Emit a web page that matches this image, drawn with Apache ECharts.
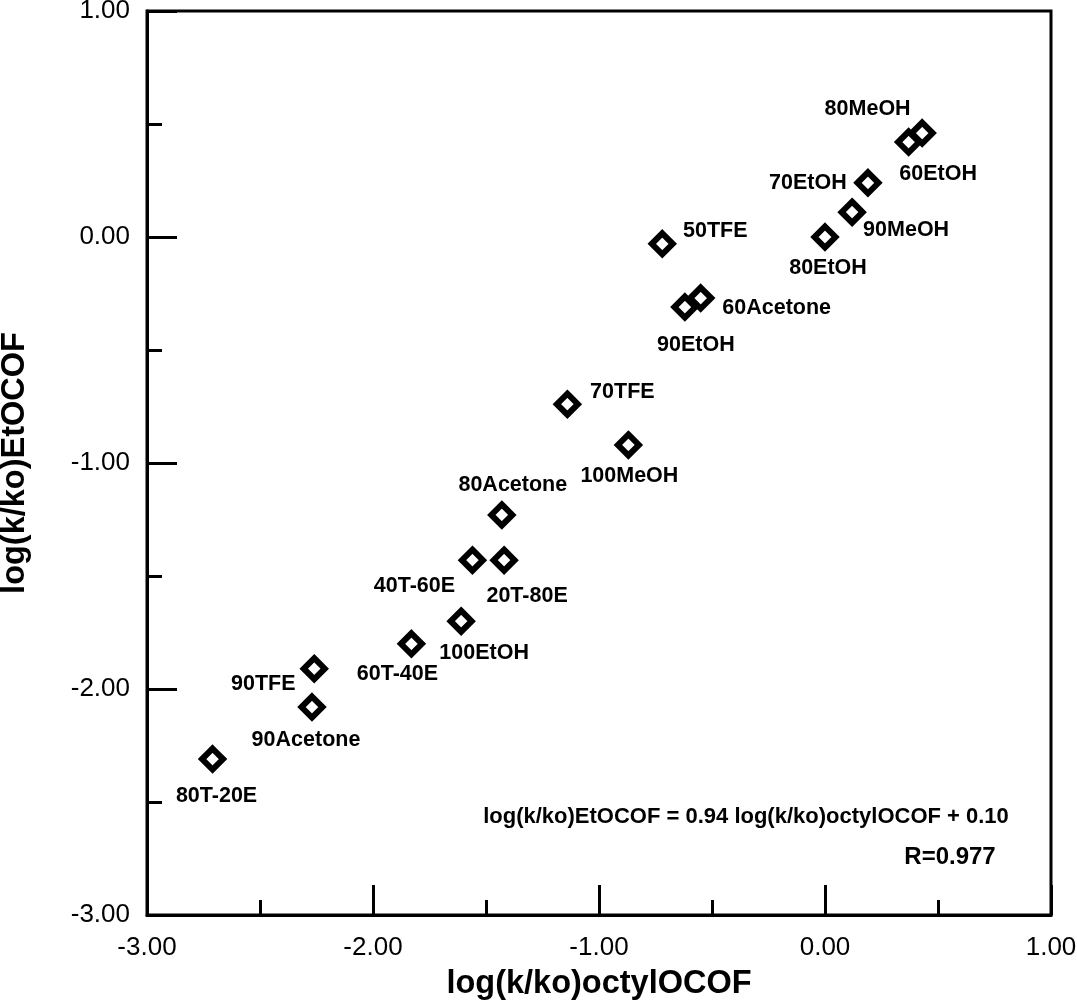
<!DOCTYPE html>
<html><head><meta charset="utf-8">
<script src="https://cdn.jsdelivr.net/npm/echarts@6/dist/echarts.min.js"></script>
<style>html,body{margin:0;padding:0;background:#fff}#c{width:1077px;height:1000px}</style>
</head><body><div id="c"></div>
<script>
// ---- data ----
const solvents = ['80MeOH','60EtOH','70EtOH','90MeOH','80EtOH','50TFE','60Acetone','90EtOH','70TFE','100MeOH','80Acetone','40T-60E','20T-80E','100EtOH','60T-40E','90TFE','90Acetone','80T-20E'];
const logKoOctylOCOF = [0.37,0.43,0.19,0.12,0.00,-0.72,-0.55,-0.62,-1.14,-0.87,-1.43,-1.56,-1.42,-1.61,-1.83,-2.26,-2.27,-2.71];
const logKoEtOCOF = [0.42,0.46,0.24,0.11,0.00,-0.03,-0.27,-0.31,-0.74,-0.92,-1.23,-1.43,-1.43,-1.70,-1.80,-1.91,-2.08,-2.31];
const xAxisTitle = 'log(k/ko)octylOCOF';
const yAxisTitle = 'log(k/ko)EtOCOF';
const equationText = 'log(k/ko)EtOCOF = 0.94 log(k/ko)octylOCOF + 0.10';
const rText = 'R=0.977';

// ---- label layout (pixel offsets of each label centre from its marker) ----
const labelOffsets = [[-41,-33],[16,41],[-60,0],[54,18],[3,31],[53,-13],[76,10],[11,38],[55,-12],[1,31],[11,-30],[-58,26],[23,36],[23,32],[-14,30],[-51,15],[-6,33],[4,37]];

const FONT = '"Liberation Sans", Arial, Helvetica, sans-serif';
const chart = echarts.init(document.getElementById('c'), null, {renderer:'canvas'});

const points = solvents.map((n, i) => ({ name: n, value: [logKoOctylOCOF[i], logKoEtOCOF[i]] }));

function axisCommon() {
  return {
    type: 'value', min: -3, max: 1, interval: 1,
    axisLine: { show: true, onZero: false, lineStyle: { color: '#000', width: 3 } },
    axisTick: { show: true, inside: true, length: 30, lineStyle: { color: '#000', width: 3 } },
    minorTick: { show: true, splitNumber: 2, length: 15, lineStyle: { color: '#000', width: 3 } },
    splitLine: { show: false },
    minorSplitLine: { show: false },
    axisLabel: { color: '#000', fontSize: 26, fontFamily: FONT, formatter: v => v.toFixed(2), showMinLabel: true, showMaxLabel: true, hideOverlap: false },
    nameLocation: 'middle',
    nameTextStyle: { color: '#000', fontSize: 32.5, fontWeight: 'bold', fontFamily: FONT }
  };
}

const xAxis = Object.assign(axisCommon(), { name: xAxisTitle, nameGap: 53 });
xAxis.axisLabel.margin = 20;
const yAxis = Object.assign(axisCommon(), { name: yAxisTitle, nameGap: 115 });
yAxis.axisLabel.margin = 17;

chart.setOption({
  animation: false,
  backgroundColor: '#fff',
  grid: { left: 147, right: 26, top: 11, bottom: 85, show: true, borderColor: '#000', borderWidth: 3, containLabel: false, outerBoundsMode: 'none' },
  xAxis: xAxis,
  yAxis: yAxis,
  series: [{
    type: 'scatter',
    symbol: 'diamond',
    symbolSize: 21,
    itemStyle: { color: '#fff', borderColor: '#000', borderWidth: 6, opacity: 1 },
    label: {
      show: true, position: 'inside', formatter: '{b}',
      color: '#000', fontSize: 21.5, fontWeight: 'bold', fontFamily: FONT,
      align: 'center', verticalAlign: 'middle'
    },
    labelLayout: function (p) {
      const o = labelOffsets[p.dataIndex];
      return { dx: o[0], dy: o[1], hideOverlap: false };
    },
    data: points
  }],
  graphic: [
    { type: 'text', x: 746, y: 817, style: { text: equationText, fill: '#000', font: 'bold 22px ' + FONT, align: 'center', verticalAlign: 'middle' } },
    { type: 'text', x: 950, y: 857, style: { text: rText, fill: '#000', font: 'bold 24px ' + FONT, align: 'center', verticalAlign: 'middle' } }
  ]
});
</script>
</body></html>
